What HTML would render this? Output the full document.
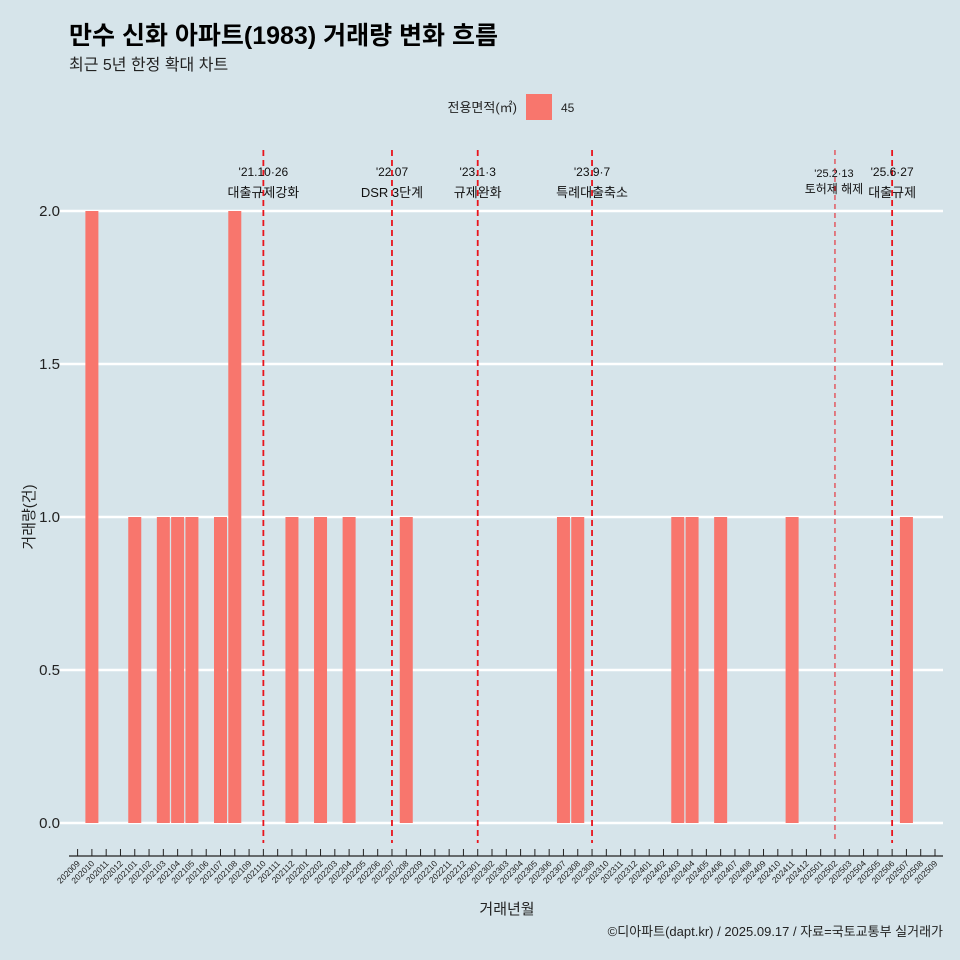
<!DOCTYPE html>
<html><head><meta charset="utf-8"><style>
body{margin:0;background:#d6e4ea;}
svg{display:block;font-family:"Liberation Sans","Noto Sans CJK KR",sans-serif;}
</style></head><body>
<svg id="c" width="960" height="960" viewBox="0 0 960 960">
<rect width="960" height="960" fill="#d6e4ea"/>
<text x="69" y="44" font-size="25" font-weight="bold" fill="#000">만수 신화 아파트(1983) 거래량 변화 흐름</text>
<text x="69" y="70" font-size="16" fill="#222">최근 5년 한정 확대 차트</text>
<g>
<text x="517" y="112" font-size="13" text-anchor="end" fill="#222">전용면적(㎡)</text>
<rect x="526" y="94" width="26" height="26" fill="#f8766d"/>
<text x="561" y="112" font-size="12" fill="#222">45</text>
</g>
<g id="plot"></g>
<text x="507" y="914" font-size="15" text-anchor="middle" fill="#222">거래년월</text>
<text transform="translate(34,517) rotate(-90)" font-size="15" text-anchor="middle" fill="#222">거래량(건)</text>
<text x="943" y="936" font-size="13" text-anchor="end" fill="#222">©디아파트(dapt.kr) / 2025.09.17 / 자료=국토교통부 실거래가</text>
</svg>
<script>
const categories=[];
for(let y=2020;y<=2025;y++)for(let m=1;m<=12;m++){const k=y*100+m;if(k>=202009&&k<=202509)categories.push(String(k));}
const barMonths=["202010","202101","202103","202104","202105","202107","202108","202112","202202","202204","202208","202307","202308","202403","202404","202406","202411","202507"];
const barValues=[2,1,1,1,1,1,2,1,1,1,1,1,1,1,1,1,1,1];
const yTicks=[0,0.5,1,1.5,2];
const yTickLabels=["0.0","0.5","1.0","1.5","2.0"];
const eventMonths=["202110","202207","202301","202309","202502","202506"];
const eventDates=["'21.10·26","'22.07","'23.1·3","'23.9·7","'25.2·13","'25.6·27"];
const eventLabels=["대출규제강화","DSR 3단계","규제완화","특례대출축소","토허제 해제","대출규제"];
const NS="http://www.w3.org/2000/svg";
const g=document.getElementById('plot');
const x0=77.6,step=14.29,yZero=823,yUnit=306;
const xs=c=>x0+categories.indexOf(c)*step;
const ys=v=>yZero-v*yUnit;
function mk(t,a){const e=document.createElementNS(NS,t);for(const k in a)e.setAttribute(k,a[k]);g.appendChild(e);return e;}
yTicks.forEach((v,i)=>{
 const l=mk('line',{x1:60,x2:943,y1:ys(v),y2:ys(v),stroke:'#fff','stroke-width':2.5});
 
 
 const t=mk('text',{x:60,y:ys(v)+5,'font-size':15,'text-anchor':'end',fill:'#222'});t.textContent=yTickLabels[i];
 
 
});
barMonths.forEach((c,i)=>{
 const r=mk('rect',{x:xs(c)-6.5,y:ys(barValues[i]),width:13,height:barValues[i]*yUnit,fill:'#f8766d'});
 
 
});
const ax=mk('line',{x1:69,x2:943,y1:856,y2:856,stroke:'#222','stroke-width':1.2});


categories.forEach(c=>{
 const x=xs(c);
 const tk=mk('line',{x1:x,x2:x,y1:849,y2:856,stroke:'#222','stroke-width':1});
 
 
 const t=mk('text',{transform:`translate(${x+3},864) rotate(-45)`,'font-size':8.5,'text-anchor':'end',fill:'#222'});t.textContent=c;
 
 
});
eventMonths.forEach((c,i)=>{
 const x=xs(c);const thin=c==="202502";
 const l=mk('line',{x1:x,x2:x,y1:150,y2:843,stroke:'#e8141c','stroke-width':thin?1:1.8,'stroke-dasharray':thin?'5,4':'6,4'});
 
 
 const off=c==="202506"?0:(c==="202502"?-1:0);
 const t1=mk('text',{x:x+off,y:thin?177:176,'font-size':thin?11:12,'text-anchor':'middle',fill:'#111'});t1.textContent=eventDates[i];
 
 
 const t2=mk('text',{x:x+off,y:thin?193:197,'font-size':thin?12:13,'text-anchor':'middle',fill:'#111'});t2.textContent=eventLabels[i];
 
 
});
</script>
</body></html>
